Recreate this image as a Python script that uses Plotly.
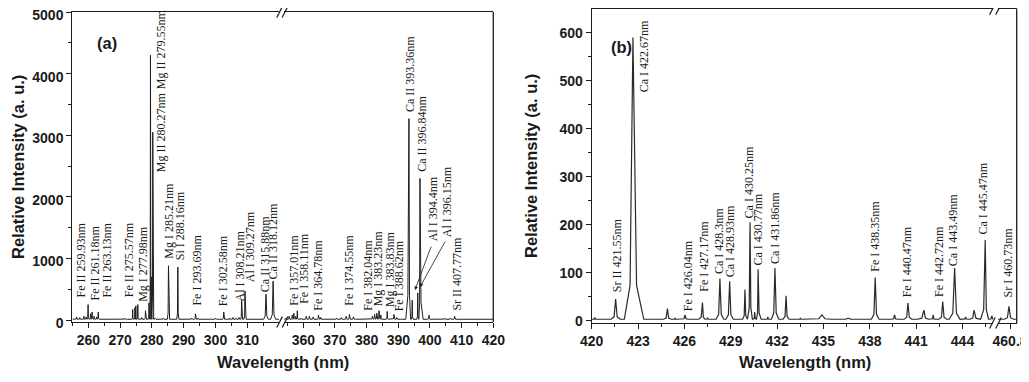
import plotly.graph_objects as go

# page body has an 8px margin; the figure is sized to fit the window with it
OFF = 8
FW, FH = 1021, 374


def px(x):
    return (x - OFF) / FW


def py(y):
    return 1 - (y - OFF) / FH


# ---------------- data ----------------
# Panel (a), first segment 255-320 nm
a1_wl = [256.3, 257.3, 258.6, 259.3, 259.93, 260.7, 261.18, 261.8, 262.6, 263.13,
         264.5, 266.0, 268.0, 271.4, 272.0, 273.95, 274.65, 274.95, 275.57, 276.75,
         277.98, 279.08, 279.55, 279.8, 280.27, 281.0, 282.5, 283.5, 285.21, 286.5,
         288.16, 289.5, 292.5, 293.69, 294.5, 296.0, 298.4, 300.0, 301.0, 302.58,
         303.5, 304.5, 305.5, 306.5, 307.4, 308.21, 309.27, 310.0, 315.88, 318.12]
a1_int = [50, 40, 60, 50, 250, 100, 130, 60, 50, 130,
          20, 15, 10, 30, 25, 170, 200, 230, 250, 40,
          150, 280, 4300, 700, 3050, 30, 20, 30, 880, 15,
          860, 15, 30, 100, 30, 20, 20, 30, 20, 130,
          25, 30, 40, 30, 40, 330, 470, 20, 420, 630]
a1_hw = [0.25, 0.25, 0.25, 0.25, 0.3, 0.25, 0.3, 0.25, 0.25, 0.3,
         0.3, 0.3, 0.3, 0.25, 0.25, 0.25, 0.2, 0.2, 0.25, 0.25,
         0.3, 0.25, 0.3, 0.2, 0.3, 0.3, 0.3, 0.3, 0.35, 0.3,
         0.35, 0.3, 0.3, 0.3, 0.25, 0.3, 0.3, 0.3, 0.3, 0.3,
         0.25, 0.25, 0.25, 0.25, 0.25, 0.3, 0.35, 0.3, 0.8, 0.8]

# Panel (a), second segment 354-420 nm
a2_wl = [354.5, 355.5, 356.5, 357.01, 357.6, 358.11, 359.3, 360.9, 361.9, 363.1,
         364.78, 365.5, 367.0, 370.5, 371.99, 373.5, 374.55, 375.8, 376.4, 379.0,
         381.8, 382.5, 383.2, 383.9, 384.5, 386.5, 388.62, 389.5, 391.0, 393.36,
         394.4, 396.15, 396.84, 399.7, 403.3, 404.6, 406.4, 407.77, 410.0, 413.0, 416.0]
a2_int = [30, 60, 80, 110, 60, 150, 30, 60, 60, 50,
          80, 40, 15, 30, 40, 60, 90, 50, 20, 15,
          60, 90, 110, 150, 80, 140, 90, 40, 20, 3270,
          320, 440, 2300, 80, 20, 30, 30, 60, 10, 10, 10]
a2_hw = [0.3, 0.3, 0.3, 0.3, 0.3, 0.3, 0.3, 0.3, 0.3, 0.3,
         0.3, 0.3, 0.3, 0.3, 0.3, 0.3, 0.3, 0.3, 0.3, 0.3,
         0.3, 0.3, 0.3, 0.3, 0.3, 0.3, 0.3, 0.3, 0.3, 1.0,
         0.3, 0.3, 1.0, 0.4, 0.3, 0.3, 0.3, 0.3, 0.3, 0.3, 0.3]

# Panel (b), first segment 420-446 nm
b1_wl = [420.2, 421.55, 422.67, 424.3, 424.9, 425.4, 426.04, 426.6, 427.17, 427.5,
         428.3, 428.93, 429.4, 429.92, 430.25, 430.55, 430.77, 431.4, 431.86, 432.58,
         433.5, 434.9, 436.6, 438.35, 439.6, 440.47, 441.5, 442.1, 442.72, 443.49,
         444.2, 444.75, 445.47, 445.9]
b1_int = [6, 45, 590, 4, 25, 5, 12, 4, 38, 6,
          88, 82, 4, 65, 205, 18, 107, 8, 110, 52,
          5, 12, 5, 90, 12, 37, 22, 12, 40, 110,
          8, 22, 168, 10]
b1_hw = [0.15, 0.3, 0.7, 0.1, 0.25, 0.1, 0.2, 0.1, 0.25, 0.1,
         0.25, 0.25, 0.1, 0.15, 0.2, 0.1, 0.2, 0.1, 0.25, 0.2,
         0.1, 0.6, 0.5, 0.25, 0.2, 0.25, 0.4, 0.12, 0.25, 0.35,
         0.15, 0.35, 0.3, 0.15]

# Panel (b), second segment around 460.8 nm
b2_wl = [460.73]
b2_int = [30]
b2_hw = [0.3]

a_base = 12
b_base = 3

# axis ranges / ticks
a1_range = [255, 320]
a2_range = [354, 420]
a_yrange = [-32.5, 5001]
b1_range = [420, 446]
b2_range = [460.02, 461.23]
b_yrange = [-4.8, 648.75]

a1_ticks = [260, 270, 280, 290, 300, 310]
a1_minor = [255, 265, 275, 285, 295, 305, 315]
a2_ticks = [360, 370, 380, 390, 400, 410, 420]
a2_minor = [355, 365, 375, 385, 395, 405, 415]
b1_ticks = [420, 423, 426, 429, 432, 435, 438, 441, 444]
b1_minor = [421.5, 424.5, 427.5, 430.5, 433.5, 436.5, 439.5, 442.5, 445.5]
b2_ticks = [460.8]
a_yticks = [0, 1000, 2000, 3000, 4000, 5000]
b_yticks = [0, 100, 200, 300, 400, 500, 600]

# line labels: text, wavelength position, bottom of text (intensity units)
a1_labels = [("Fe II 259.93nm", 257.7, 357), ("Fe II 261.18nm", 262.1, 308),
             ("Fe II 263.13nm", 265.6, 341), ("Fe II 275.57nm", 272.7, 357),
             ("Mg I 277.98nm", 277.0, 284), ("Mg II 279.55nm", 282.9, 3734),
             ("Mg II 280.27nm", 282.9, 2386), ("Mg I 285.21nm", 285.4, 980),
             ("Si I 288.16nm", 288.8, 960), ("Fe I 293.69nm", 293.9, 211),
             ("Fe I 302.58nm", 302.3, 211), ("Al I 308.21nm", 307.7, 292),
             ("Al I 309.27nm", 311.1, 601), ("Ca II 315.88nm", 315.6, 438),
             ("Ca II 318.12nm", 318.2, 649)]
a2_labels = [("Fe I 357.01nm", 356.8, 211), ("Fe I 358.11nm", 360.0, 243),
             ("Fe I 364.78nm", 364.7, 130), ("Fe I 374.55nm", 374.2, 211),
             ("Fe I 382.04nm", 380.5, 130), ("Mg I 383.23nm", 383.7, 211),
             ("Mg I 383.83nm", 387.4, 195), ("Fe I 388.62nm", 390.5, 130),
             ("Ca II 393.36nm", 393.7, 3360), ("Ca II 396.84nm", 397.4, 2386),
             ("Al I 394.4nm", 400.9, 1266), ("Al I 396.15nm", 405.3, 1331),
             ("Sr II 407.77nm", 408.4, 130)]
a2_arrows = [(395.27, 487, 400.55, 1218), (396.85, 536, 405.06, 1299)]
b1_labels = [("Sr II 421.55nm", 421.66, 58), ("Ca I 422.67nm", 423.39, 474),
             ("Fe I 426.04nm", 426.21, 18), ("Fe I 427.17nm", 427.29, 58),
             ("Ca I 428.3nm", 428.24, 95), ("Ca I 428.93nm", 429.0, 88),
             ("Ca I 430.25nm", 430.15, 210), ("Ca I 430.77nm", 430.74, 112),
             ("Ca I 431.86nm", 431.9, 115), ("Fe I 438.35nm", 438.34, 99),
             ("Fe I 440.47nm", 440.39, 47), ("Fe I 442.72nm", 442.43, 47),
             ("Ca I 443.49nm", 443.40, 112), ("Ca I 445.47nm", 445.35, 178)]
b2_labels = [("Sr I 460.73nm", 460.69, 47)]


def spectrum(wl, inten, hw, base, lo, hi, wing=0.12):
    xs, ys = [lo], [base]
    n = len(wl)
    for i, c in enumerate(wl):
        left = hw[i] if i == 0 else min(hw[i], (c - wl[i - 1]) / 2)
        right = hw[i] if i == n - 1 else min(hw[i], (wl[i + 1] - c) / 2)
        wy = base + wing * (inten[i] - base)
        xs += [c - left, c - left / 3, c, c + right / 3, c + right]
        ys += [base, wy, inten[i], wy, base]
    xs.append(hi)
    ys.append(base)
    return xs, ys


LINE = "#1e1e1e"
fig = go.Figure()
for (wl, it, hw, base, rng, xa, ya, lw, col) in [
        (a1_wl, a1_int, a1_hw, a_base, a1_range, "x", "y", 1.0, LINE),
        (a2_wl, a2_int, a2_hw, a_base, a2_range, "x2", "y", 1.0, LINE),
        (b1_wl, b1_int, b1_hw, b_base, b1_range, "x3", "y2", 1.2, "#2a2a2a"),
        (b2_wl, b2_int, b2_hw, b_base, b2_range, "x4", "y2", 1.2, "#2a2a2a")]:
    xs, ys = spectrum(wl, it, hw, base, rng[0], rng[1])
    fig.add_trace(go.Scatter(x=xs, y=ys, mode="lines", xaxis=xa, yaxis=ya,
                             line=dict(color=col, width=lw), hoverinfo="skip",
                             showlegend=False))

TICKFONT = dict(family="Liberation Sans, Arial, sans-serif", size=14, color="#1a1a1a", weight="bold")
common = dict(showline=True, linecolor="#1a1a1a", linewidth=1.3, ticks="outside",
              ticklen=5, tickwidth=1.2, tickcolor="#1a1a1a", showgrid=False,
              zeroline=False, tickfont=TICKFONT, fixedrange=True, automargin=False,
              ticklabeloverflow="allow")


def xax(dom, rng, ticks, minor, anchor):
    d = dict(common)
    d.update(domain=[px(dom[0]), px(dom[1])], range=rng, tickmode="array",
             tickvals=ticks, mirror=True, anchor=anchor)
    if minor:
        d["minor"] = dict(tickmode="array", tickvals=minor, ticks="outside",
                          ticklen=3, tickwidth=1, tickcolor="#1a1a1a")
    return d


def yax(dom, rng, ticks, dminor, anchor, shift=0):
    d = dict(common)
    d.update(domain=[py(dom[1]), py(dom[0])], range=rng, tickmode="array",
             tickvals=ticks, anchor=anchor, ticklabelshift=shift,
             minor=dict(dtick=dminor, tick0=0, ticks="outside", ticklen=3,
                        tickwidth=1, tickcolor="#1a1a1a"))
    return d


A_TOP, A_BOT = 12, 322
B_TOP, B_BOT = 9.3, 323
A1 = (72.4, 279.1)
A2 = (284.3, 493.3)
B1 = (591.7, 993.4)
B2 = (998.0, 1016.7)

fig.update_layout(
    template="none",
    width=FW, height=FH, margin=dict(l=0, r=0, t=0, b=0, pad=0, autoexpand=False),
    paper_bgcolor="white", plot_bgcolor="white", showlegend=False,
    xaxis=xax(A1, a1_range, a1_ticks, a1_minor, "y"),
    xaxis2=xax(A2, a2_range, a2_ticks, a2_minor, "y"),
    xaxis3=xax(B1, b1_range, b1_ticks, b1_minor, "y2"),
    xaxis4=xax(B2, b2_range, b2_ticks, None, "y2"),
    yaxis=yax((A_TOP, A_BOT), a_yrange, a_yticks, 500, "x", shift=3),
    yaxis2=yax((B_TOP, B_BOT), b_yrange, b_yticks, 50, "x3"),
)

shapes = []
# right borders
for (x, t, b) in [(A2[1], A_TOP, A_BOT), (B2[1], B_TOP, B_BOT)]:
    shapes.append(dict(type="line", xref="paper", yref="paper", x0=px(x), x1=px(x),
                       y0=py(t), y1=py(b), line=dict(color="#1a1a1a", width=1.3)))
# break marks
for (xs_, ys_) in [((A1[1] + 0.5, A2[0] + 0.7), (A_TOP, A_BOT)),
                   ((B1[1] - 1.0, B2[0] + 0.5), (B_TOP, B_BOT))]:
    for yy in ys_:
        for xc in xs_:
            shapes.append(dict(type="line", xref="paper", yref="paper",
                               x0=px(xc - 2.8), y0=py(yy + 5.5), x1=px(xc + 2.8), y1=py(yy - 5.5),
                               line=dict(color="#1a1a1a", width=1.2)))
fig.update_layout(shapes=shapes)

LBLFONT = dict(family="Liberation Serif, Times New Roman, serif", size=12, color="#1a1a1a")
ann = []
for labels, xr, yr in [(a1_labels, "x", "y"), (a2_labels, "x2", "y"),
                       (b1_labels, "x3", "y2"), (b2_labels, "x4", "y2")]:
    for (t, x, y) in labels:
        ann.append(dict(text=t, x=x, y=y, xref=xr, yref=yr, textangle=-90,
                        xanchor="center", yanchor="bottom", showarrow=False,
                        font=LBLFONT, borderpad=0))
for (hx, hy, tx, ty) in a2_arrows:
    ann.append(dict(text="", x=hx, y=hy, xref="x2", yref="y", ax=tx, ay=ty,
                    axref="x2", ayref="y", showarrow=True, arrowhead=2,
                    arrowsize=0.9, arrowwidth=0.8, arrowcolor="#1a1a1a"))

TITLEFONT = dict(family="Liberation Sans, Arial, sans-serif", size=16.5, color="#1a1a1a", weight="bold")
for (t, x, y, ang) in [("Relative Intensity (a. u.)", 18, 167, -90),
                       ("Relative Intensity (a. u.)", 531, 166, -90),
                       ("Wavelength (nm)", 283, 362, 0),
                       ("Wavelength (nm)", 805, 362, 0),
                       ("(a)", 107, 43, 0),
                       ("(b)", 621, 47, 0)]:
    ann.append(dict(text=t, x=px(x), y=py(y), xref="paper", yref="paper",
                    textangle=ang, xanchor="center", yanchor="middle",
                    showarrow=False, font=TITLEFONT))
fig.update_layout(annotations=ann)

fig.write_html("out.html")
